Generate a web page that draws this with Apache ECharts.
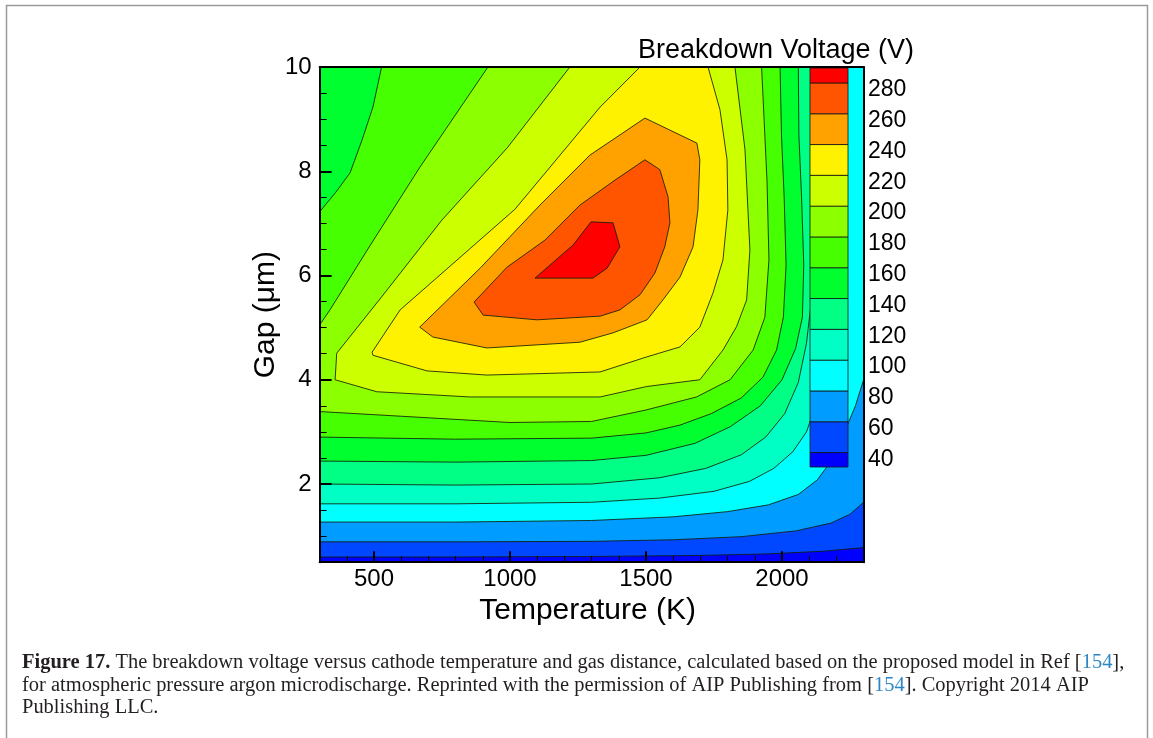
<!DOCTYPE html>
<html><head><meta charset="utf-8">
<script src="https://cdn.jsdelivr.net/npm/echarts@6/dist/echarts.min.js"></script>
<style>html,body{margin:0;padding:0;background:#fff}#c{width:1153px;height:738px}</style>
</head><body><div id="c"></div>
<script>
// ---- data (contour lines of breakdown voltage) ----
const levels = [40, 60, 80, 100, 120, 140, 160, 180, 200, 220, 240, 260, 280];
const bandColors = ['#0000ff','#0048ff','#009cff','#00ffff','#00ffc4','#00ff84','#00ff2e','#46ff00','#8cff00','#ccff00','#fff200','#ffa200','#ff5400','#ff0000'];
const xMajor = [500, 1000, 1500, 2000];
const xMinor = [400, 600, 700, 800, 900, 1100, 1200, 1300, 1400, 1600, 1700, 1800, 1900, 2100, 2200];
const yMajor = [2, 4, 6, 8, 10];
const yMinor = [1, 1.5, 2.5, 3, 3.5, 4.5, 5, 5.5, 6.5, 7, 7.5, 8.5, 9, 9.5];
const T0 = 300, T1 = 2300, D0 = 0.5, D1 = 10;

// each contour: [temperature (K), gap (um)]
const c40 = [[300,0.6],[800,0.6],[1300,0.61],[1700,0.63],[1950,0.66],[2150,0.71],[2300,0.78]];
const c60 = [[300,0.89],[800,0.89],[1300,0.9],[1600,0.93],[1850,0.99],[2050,1.1],[2180,1.25],[2250,1.42],[2300,1.65]];
const c80 = [[300,1.27],[800,1.27],[1300,1.3],[1600,1.37],[1800,1.47],[1950,1.6],[2060,1.8],[2130,2.08],[2175,2.4],[2230,3.0],[2270,3.5],[2300,4.0]];
const c100 = [[300,1.62],[800,1.62],[1300,1.65],[1550,1.73],[1750,1.86],[1880,2.05],[1970,2.3],[2040,2.62],[2090,3.0],[2130,3.6],[2155,4.5],[2170,5.8],[2180,7.5],[2185,10]];
const c120 = [[300,2.0],[800,1.98],[1300,2.0],[1550,2.12],[1720,2.3],[1850,2.56],[1940,2.9],[2010,3.35],[2060,3.95],[2090,4.7],[2110,5.6],[2120,7.0],[2128,8.5],[2130,10]];
const c140 = [[300,2.44],[800,2.42],[1300,2.45],[1500,2.55],[1680,2.78],[1810,3.1],[1920,3.5],[2000,4.0],[2050,4.6],[2075,5.2],[2080,6.2],[2072,7.5],[2062,8.7],[2060,10]];
const c160lo = [[300,2.9],[800,2.86],[1300,2.88],[1500,2.98],[1625,3.13],[1740,3.35],[1850,3.65],[1930,4.05],[1980,4.57],[2005,5.2],[2015,6.2],[2008,7.5],[1998,8.7],[1993,10]];
const c160hi = [[528,10],[496,9.23],[456,8.6],[412,7.97],[360,7.6],[300,7.22]];
const c180lo = [[300,3.39],[700,3.27],[1000,3.18],[1300,3.2],[1500,3.42],[1686,3.67],[1809,4.0],[1894,4.57],[1937,5.2],[1952,6.3],[1945,7.8],[1925,10]];
const c180hi = [[919,10],[669,8.08],[485,6.57],[338,5.34],[300,5.05]];
const c200 = [[1220,10],[990,8.45],[749,7.06],[528,5.59],[363,4.51],[357,4.0],[510,3.77],[853,3.67],[1331,3.67],[1502,3.87],[1698,4.0],[1783,4.57],[1833,5.02],[1870,5.53],[1882,6.49],[1864,8.41],[1827,10]];
const c220 = [[1478,10],[1331,9.23],[1018,7.27],[596,5.34],[493,4.53],[496,4.47],[695,4.17],[915,4.09],[1331,4.15],[1504,4.44],[1625,4.63],[1698,5.01],[1746,5.66],[1783,6.3],[1801,7.26],[1798,8.22],[1772,9.18],[1728,10]];
const c240 = [[1496,9.02],[1687,8.54],[1698,8.22],[1691,7.26],[1673,6.55],[1625,5.97],[1562,5.53],[1504,5.15],[1379,4.9],[1257,4.72],[915,4.61],[716,4.82],[668,5.01],[890,6.14],[1110,7.35],[1294,8.31]];
const c260 = [[1496,8.22],[1551,8.03],[1581,7.51],[1588,7.01],[1569,6.55],[1533,6.05],[1478,5.63],[1404,5.34],[1331,5.22],[1099,5.15],[901,5.24],[868,5.49],[989,6.16],[1129,6.68],[1257,7.35],[1386,7.83]];
const c280 = [[1092,5.95],[1232,6.585],[1298,7.03],[1379,7.01],[1404,6.55],[1357,6.14],[1305,5.95]];

const cbMin = 30.6, cbMax = 289.7;

// ---- build filled regions (value above each level) ----
const polys = [
  [[T0,D0],[T1,D0],[T1,D1],[T0,D1]],
  c40.concat([[T1,D1],[T0,D1]]),
  c60.concat([[T1,D1],[T0,D1]]),
  c80.concat([[T1,D1],[T0,D1]]),
  c100.concat([[T0,D1]]),
  c120.concat([[T0,D1]]),
  c140.concat([[T0,D1]]),
  c160lo.concat(c160hi),
  c180lo.concat(c180hi),
  c200, c220, c240, c260, c280
];
const fieldData = polys.map((p, i) => [T0, D0, i]);
const cbData = bandColors.map((c, i) => [0, i === 0 ? cbMin : levels[i - 1], i === levels.length ? cbMax : levels[i], i]);

const FONT = "'Liberation Sans', Arial, Helvetica, sans-serif";
const SERIF = "'Liberation Serif', 'Times New Roman', serif";

const chart = echarts.init(document.getElementById('c'), null, {renderer: 'canvas'});

// caption font fitting
const line1a = 'Figure 17.';
const line1b = ' The breakdown voltage versus cathode temperature and gas distance, calculated based on the proposed model in Ref [';
const line1c = '154';
const line1d = '],';
const line2a = 'for atmospheric pressure argon microdischarge. Reprinted with the permission of AIP Publishing from [';
const line2b = '154';
const line2c = ']. Copyright 2014 AIP';
const line3 = 'Publishing LLC.';
const ctx = document.createElement('canvas').getContext('2d');
function w1(fs) {
  ctx.font = 'bold ' + fs + 'px ' + SERIF;
  let a = ctx.measureText(line1a).width;
  ctx.font = fs + 'px ' + SERIF;
  return a + ctx.measureText(line1b + line1c + line1d).width;
}
let capFs = 19 * 1103 / w1(19);
const rich = {
  b: {fontWeight: 'bold', fontFamily: SERIF, fontSize: capFs, fill: '#231f20'},
  r: {fontFamily: SERIF, fontSize: capFs, fill: '#231f20'},
  l: {fontFamily: SERIF, fontSize: capFs, fill: '#2a86c4'}
};

const axisLineStyle = {color: '#000', width: 2};
const plain = v => String(v);

chart.setOption({
  animation: false,
  grid: [
    {left: 319.6, top: 67, width: 544, height: 495.2},
    {left: 810, top: 68, width: 38, height: 399},
    {left: 810, top: 75, width: 38, height: 399}
  ],
  xAxis: [
    {gridIndex: 0, type: 'value', min: T0, max: T1, position: 'bottom', z: 10,
     axisLine: {show: true, onZero: false, lineStyle: axisLineStyle},
     axisTick: {show: true, inside: true, length: 11, customValues: xMajor, lineStyle: {color: '#000', width: 2}},
     axisLabel: {customValues: xMajor, formatter: plain, fontSize: 24, fontFamily: FONT, color: '#000', margin: 5},
     splitLine: {show: false},
     name: 'Temperature (K)', nameLocation: 'middle', nameGap: 26,
     nameTextStyle: {fontSize: 30, fontFamily: FONT, color: '#000', verticalAlign: 'top', padding: [0, 8, 0, 0]}},
    {gridIndex: 0, type: 'value', min: T0, max: T1, position: 'bottom', z: 10,
     axisLine: {show: false, onZero: false},
     axisTick: {show: true, inside: true, length: 6, customValues: xMinor, lineStyle: {color: '#000', width: 1}},
     axisLabel: {show: false}, splitLine: {show: false}},
    {gridIndex: 0, type: 'value', min: T0, max: T1, position: 'top', z: 10,
     axisLine: {show: true, onZero: false, lineStyle: axisLineStyle},
     axisTick: {show: false}, axisLabel: {show: false}, splitLine: {show: false}},
    {gridIndex: 1, type: 'value', min: 0, max: 1, show: false},
    {gridIndex: 2, type: 'value', min: 0, max: 1, show: false}
  ],
  yAxis: [
    {gridIndex: 0, type: 'value', min: D0, max: D1, position: 'left', z: 10,
     axisLine: {show: true, onZero: false, lineStyle: axisLineStyle},
     axisTick: {show: true, inside: true, length: 12, customValues: yMajor, lineStyle: {color: '#000', width: 2}},
     axisLabel: {customValues: yMajor, formatter: plain, fontSize: 24, fontFamily: FONT, color: '#000', margin: 8},
     splitLine: {show: false},
     name: 'Gap (\u03bcm)', nameLocation: 'middle', nameGap: 27, nameRotate: 90,
     nameTextStyle: {fontSize: 30, fontFamily: FONT, color: '#000'}},
    {gridIndex: 0, type: 'value', min: D0, max: D1, position: 'left', z: 10,
     axisLine: {show: false, onZero: false},
     axisTick: {show: true, inside: true, length: 7, customValues: yMinor, lineStyle: {color: '#000', width: 1}},
     axisLabel: {show: false}, splitLine: {show: false}},
    {gridIndex: 0, type: 'value', min: D0, max: D1, position: 'right', z: 10,
     axisLine: {show: true, onZero: false, lineStyle: axisLineStyle},
     axisTick: {show: false}, axisLabel: {show: false}, splitLine: {show: false}},
    {gridIndex: 1, type: 'value', min: cbMin, max: cbMax, show: false},
    {gridIndex: 2, type: 'value', min: cbMin, max: cbMax, position: 'right', z: 10,
     axisLine: {show: false, onZero: false}, axisTick: {show: false},
     axisLabel: {customValues: levels, formatter: plain, fontSize: 23, fontFamily: FONT, color: '#000', margin: 20},
     splitLine: {show: false}}
  ],
  series: [
    {type: 'custom', xAxisIndex: 0, yAxisIndex: 0, clip: true, z: 2,
     data: fieldData, encode: {x: 0, y: 1},
     renderItem: function (params, api) {
       const i = api.value(2);
       const pts = polys[i].map(p => api.coord(p));
       return {type: 'polygon', shape: {points: pts},
         style: {fill: bandColors[i], stroke: i === 0 ? null : 'rgba(20,30,10,0.85)', lineWidth: 1}};
     }},
    {type: 'custom', xAxisIndex: 3, yAxisIndex: 3, z: 5,
     data: cbData, encode: {x: 0, y: 1},
     renderItem: function (params, api) {
       const i = api.value(3);
       const p0 = api.coord([0, api.value(2)]);
       const p1 = api.coord([1, api.value(1)]);
       return {type: 'rect', shape: {x: p0[0], y: p0[1], width: p1[0] - p0[0], height: p1[1] - p0[1]},
         style: {fill: bandColors[i], stroke: 'rgba(20,20,20,0.8)', lineWidth: 1}};
     }}
  ],
  graphic: [
    {type: 'rect', silent: true, shape: {x: 6.5, y: 5.5, width: 1141, height: 800},
     style: {fill: 'none', stroke: '#9a9a9a', lineWidth: 1.5}},
    {type: 'text', silent: true, x: 776, y: 51,
     style: {text: 'Breakdown Voltage (V)', font: '27px ' + FONT, fill: '#000', align: 'center', verticalAlign: 'middle'}},
    {type: 'text', silent: true, x: 22, y: 663,
     style: {text: '{b|' + line1a + '}{r|' + line1b + '}{l|' + line1c + '}{r|' + line1d + '}', rich: rich, verticalAlign: 'middle'}},
    {type: 'text', silent: true, x: 22, y: 685.5,
     style: {text: '{r|' + line2a + '}{l|' + line2b + '}{r|' + line2c + '}', rich: rich, verticalAlign: 'middle'}},
    {type: 'text', silent: true, x: 22, y: 708,
     style: {text: '{r|' + line3 + '}', rich: rich, verticalAlign: 'middle'}}
  ]
});
</script></body></html>
